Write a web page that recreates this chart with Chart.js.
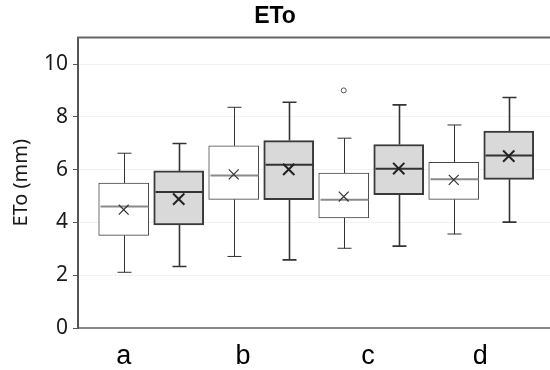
<!DOCTYPE html>
<html lang="en">
<head>
  <meta charset="UTF-8">
  <title>ETo</title>
  <script src="https://cdn.jsdelivr.net/npm/chart.js"></script>
  <style>
    html, body { margin: 0; padding: 0; background: #fff; overflow: hidden; }
    .wrap { position: relative; width: 550px; height: 370px; }
  </style>
</head>
<body>
  <div class="wrap"><canvas id="chart"></canvas></div>
  <script>
    // Data
    const categories = ['a', 'b', 'c', 'd'];
    // [min, q1, median, q3, max]
    const lightBoxes = [
      [2.11, 3.51, 4.60, 5.49, 6.62],
      [2.71, 4.87, 5.78, 6.90, 8.36],
      [3.02, 4.17, 4.86, 5.87, 7.19],
      [3.56, 4.87, 5.63, 6.28, 7.69]
    ];
    const lightMeans = [4.48, 5.82, 4.98, 5.61];
    const lightOutliers = [[], [], [9.0], []];
    const darkBoxes = [
      [2.33, 3.90, 5.15, 5.95, 6.99],
      [2.58, 4.86, 6.18, 7.10, 8.55],
      [3.10, 5.05, 6.03, 6.95, 8.45],
      [4.01, 5.63, 6.53, 7.46, 8.73]
    ];
    const darkMeans = [4.88, 6.01, 6.04, 6.51];
    const yTicks = [0, 2, 4, 6, 8, 10];

    // light box of category i sits at 2i+1 on the x scale, dark box at 2i+2
    const slot = (i, k) => 2 * i + 1 + k;
    const labelSlots = [1, 3.17, 5.44, 7.48];

    // whiskers + median lines, drawn right after each box dataset
    const boxPlugin = {
      id: 'boxParts',
      afterDatasetDraw(chart, args) {
        const ds = chart.data.datasets[args.index];
        if (!ds.boxes) return;
        const { ctx, scales: { x, y } } = chart;
        ctx.save();
        ds.boxes.forEach((b, i) => {
          const px = Math.round(x.getPixelForValue(slot(i, ds.slotOffset))) + 0.5;
          const yMin = y.getPixelForValue(b[0]);
          const yQ1 = y.getPixelForValue(b[1]);
          const yMed = y.getPixelForValue(b[2]);
          const yQ3 = y.getPixelForValue(b[3]);
          const yMax = y.getPixelForValue(b[4]);
          ctx.strokeStyle = ds.whiskerColor;
          ctx.lineWidth = ds.whiskerWidth;
          ctx.beginPath();
          ctx.moveTo(px, yQ3); ctx.lineTo(px, yMax);
          ctx.moveTo(px - 7, yMax); ctx.lineTo(px + 7, yMax);
          ctx.moveTo(px, yQ1); ctx.lineTo(px, yMin);
          ctx.moveTo(px - 7, yMin); ctx.lineTo(px + 7, yMin);
          ctx.stroke();
          ctx.strokeStyle = ds.medianColor;
          ctx.lineWidth = ds.medianWidth;
          ctx.beginPath();
          ctx.moveTo(px - 24, yMed); ctx.lineTo(px + 24, yMed);
          ctx.stroke();
        });
        ctx.restore();
      },
      afterDraw(chart) {
        const { ctx, chartArea } = chart;
        ctx.save();
        ctx.strokeStyle = '#666';
        ctx.lineWidth = 2;
        ctx.beginPath();
        ctx.moveTo(chartArea.left - 1, chartArea.top);
        ctx.lineTo(chartArea.right, chartArea.top);
        ctx.stroke();
        ctx.restore();
      }
    };

    const ctx = document.getElementById('chart').getContext('2d');
    new Chart(ctx, {
      type: 'bar',
      data: {
        datasets: [
          {
            type: 'scatter',
            data: lightMeans.map((v, i) => ({ x: slot(i, 0), y: v })),
            pointStyle: 'crossRot',
            radius: 7,
            borderColor: '#333',
            borderWidth: 1.2,
            order: 0
          },
          {
            type: 'scatter',
            data: darkMeans.map((v, i) => ({ x: slot(i, 1), y: v })),
            pointStyle: 'crossRot',
            radius: 8,
            borderColor: '#222',
            borderWidth: 2,
            order: 0
          },
          {
            type: 'scatter',
            data: lightOutliers.flatMap((list, i) => list.map(v => ({ x: slot(i, 0), y: v }))),
            pointStyle: 'circle',
            radius: 2.5,
            borderColor: '#555',
            backgroundColor: '#fff',
            borderWidth: 1,
            order: 1
          },
          {
            data: lightBoxes.map((b, i) => ({ x: slot(i, 0), y: [b[1], b[3]] })),
            backgroundColor: '#fff',
            borderColor: '#444',
            borderWidth: 1,
            borderSkipped: false,
            barThickness: 50,
            grouped: false,
            order: 3,
            boxes: lightBoxes,
            slotOffset: 0,
            whiskerColor: '#333',
            whiskerWidth: 1,
            medianColor: '#8a8a8a',
            medianWidth: 2
          },
          {
            data: darkBoxes.map((b, i) => ({ x: slot(i, 1), y: [b[1], b[3]] })),
            backgroundColor: '#d9d9d9',
            borderColor: '#3a3a3a',
            borderWidth: 2,
            borderSkipped: false,
            barThickness: 50,
            grouped: false,
            order: 2,
            boxes: darkBoxes,
            slotOffset: 1,
            whiskerColor: '#333',
            whiskerWidth: 1.6,
            medianColor: '#333',
            medianWidth: 2
          }
        ]
      },
      options: {
        responsive: true,
        maintainAspectRatio: false,
        animation: false,
        layout: { padding: 0, autoPadding: false },
        plugins: {
          legend: { display: false },
          tooltip: { enabled: false },
          title: {
            display: true,
            text: 'ETo',
            color: '#000',
            font: { family: 'Liberation Sans', size: 23, weight: 'bold' },
            padding: { top: 3, bottom: 7 }
          }
        },
        scales: {
          x: {
            type: 'linear',
            min: 0.169,
            max: 8.75,
            offset: false,
            grid: { display: false },
            border: { color: '#888', width: 2 },
            afterBuildTicks: (scale) => { scale.ticks = labelSlots.map(v => ({ value: v })); },
            afterFit: (scale) => {
              scale.height = 42;
              scale.paddingLeft = 0;
              scale.paddingRight = 0;
            },
            ticks: {
              autoSkip: false,
              maxRotation: 0,
              padding: 4,
              color: '#000',
              font: { family: 'Liberation Sans', size: 27 },
              callback: (v, i) => categories[i]
            }
          },
          y: {
            min: 0,
            max: 11,
            afterBuildTicks: (scale) => { scale.ticks = yTicks.map(v => ({ value: v })); },
            afterFit: (scale) => { scale.width = 78; },
            grid: { color: '#f2f2f2', tickColor: '#555', tickLength: 5, drawTicks: true },
            border: { color: '#555', width: 2 },
            ticks: {
              padding: 5,
              color: '#1a1a1a',
              font: { family: 'Noto Sans', size: 21 }
            },
            title: {
              display: true,
              text: 'ETo (mm)',
              color: '#1a1a1a',
              font: { family: 'Noto Sans', size: 20 },
              padding: { top: 9 }
            }
          }
        }
      },
      plugins: [boxPlugin]
    });
  </script>
</body>
</html>
